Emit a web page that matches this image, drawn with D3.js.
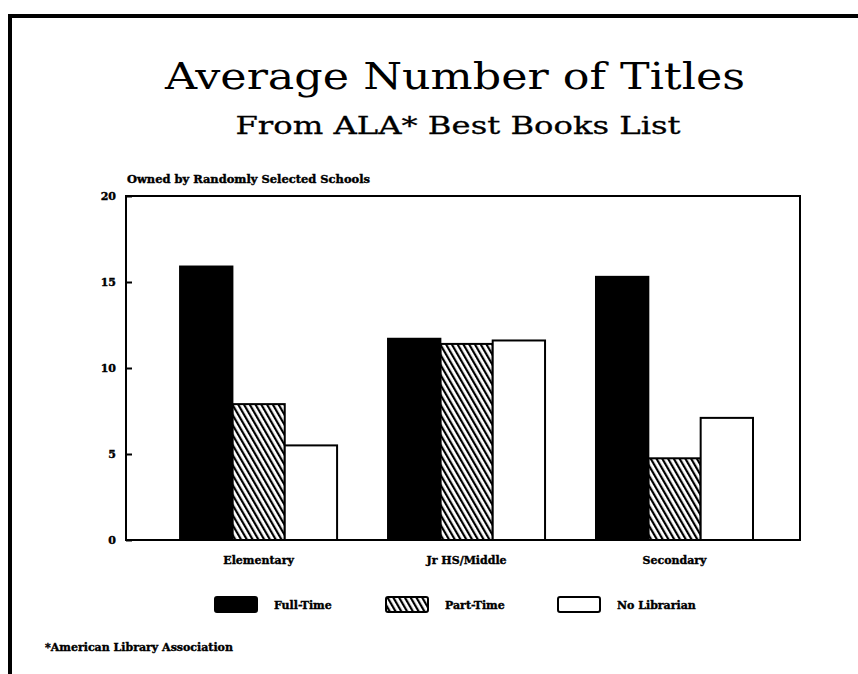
<!DOCTYPE html>
<html>
<head>
<meta charset="utf-8">
<script src="https://cdn.jsdelivr.net/npm/d3@7"></script>
<style>
  body { margin: 0; background: #fff; }
  svg { display: block; }
  .small { font-family: "DejaVu Serif", serif; font-weight: bold; font-size: 11px; fill: #000; stroke: #000; stroke-width: 0.4px; }
</style>
</head>
<body>
<div id="chart"></div>
<script>
var categories = ["Elementary", "Jr HS/Middle", "Secondary"];
var seriesNames = ["Full-Time", "Part-Time", "No Librarian"];
var fullTime = [15.9, 11.7, 15.3];
var partTime = [7.9, 11.4, 4.75];
var noLibrarian = [5.5, 11.6, 7.1];
var yTicks = [0, 5, 10, 15, 20];

var width = 858, height = 674;
var margin = { top: 196, right: 58, bottom: 134, left: 126 };
var w = width - margin.left - margin.right,
    h = height - margin.top - margin.bottom;

var svg = d3.select("#chart").append("svg")
  .attr("width", width)
  .attr("height", height);

// hatch for part-time
var defs = svg.append("defs");
defs.append("pattern")
  .attr("id", "hatch")
  .attr("patternUnits", "userSpaceOnUse")
  .attr("width", 5).attr("height", 5)
  .attr("patternTransform", "rotate(-30)")
  .append("rect")
  .attr("x", 0).attr("y", 0)
  .attr("width", 2.2).attr("height", 5)
  .attr("fill", "#000");

// page border (scanned frame)
svg.append("path")
  .attr("d", "M10,674 L10,16 L858,16")
  .attr("fill", "none")
  .attr("stroke", "#000")
  .attr("stroke-width", 4);

svg.append("text")
  .attr("x", 455).attr("y", 89)
  .attr("text-anchor", "middle")
  .attr("font-family", "DejaVu Serif, serif")
  .attr("font-size", 38)
  .attr("textLength", 580)
  .attr("lengthAdjust", "spacingAndGlyphs")
  .text("Average Number of Titles");

svg.append("text")
  .attr("x", 458).attr("y", 134)
  .attr("text-anchor", "middle")
  .attr("font-family", "DejaVu Serif, serif")
  .attr("font-size", 25)
  .attr("stroke", "#000")
  .attr("stroke-width", 0.3)
  .attr("textLength", 445)
  .attr("lengthAdjust", "spacingAndGlyphs")
  .text("From ALA* Best Books List");

svg.append("text")
  .attr("class", "small")
  .attr("x", 127).attr("y", 183)
  .attr("textLength", 243)
  .attr("lengthAdjust", "spacingAndGlyphs")
  .text("Owned by Randomly Selected Schools");

var g = svg.append("g")
  .attr("transform", "translate(" + margin.left + "," + margin.top + ")");

var x0 = d3.scaleBand()
  .domain(categories)
  .range([0, w])
  .paddingInner(0.245)
  .paddingOuter(0.243)
  .align(0.535);

var x1 = d3.scaleBand()
  .domain(seriesNames)
  .range([0, x0.bandwidth()]);

var y = d3.scaleLinear()
  .domain([0, 20])
  .range([h, 0]);

var fills = { "Full-Time": "#000", "Part-Time": "url(#hatch)", "No Librarian": "#fff" };

var rows = categories.map(function(c, i) {
  return {
    category: c,
    values: [
      { key: "Full-Time", value: fullTime[i] },
      { key: "Part-Time", value: partTime[i] },
      { key: "No Librarian", value: noLibrarian[i] }
    ]
  };
});

var group = g.selectAll(".group")
  .data(rows)
  .enter().append("g")
  .attr("class", "group")
  .attr("transform", function(d) { return "translate(" + x0(d.category) + ",0)"; });

group.selectAll("rect")
  .data(function(d) { return d.values; })
  .enter().append("rect")
  .attr("x", function(d) { return x1(d.key); })
  .attr("y", function(d) { return y(d.value); })
  .attr("width", x1.bandwidth())
  .attr("height", function(d) { return h - y(d.value); })
  .attr("fill", function(d) { return fills[d.key]; })
  .attr("stroke", "#000")
  .attr("stroke-width", 2);

// plot frame
g.append("rect")
  .attr("x", 0).attr("y", 0)
  .attr("width", w).attr("height", h)
  .attr("fill", "none")
  .attr("stroke", "#000")
  .attr("stroke-width", 2);

var yAxis = d3.axisRight(y)
  .tickValues(yTicks)
  .tickSize(6)
  .tickFormat("");

g.append("g")
  .call(yAxis)
  .call(function(s) {
    s.select(".domain").remove();
    s.selectAll("line").attr("stroke", "#000").attr("stroke-width", 2);
  });

g.selectAll(".ylabel")
  .data(yTicks)
  .enter().append("text")
  .attr("class", "small")
  .attr("x", -10)
  .attr("y", function(d) { return y(d) + 4; })
  .attr("text-anchor", "end")
  .text(function(d) { return d; });

var xAxis = d3.axisBottom(x0).tickSize(0).tickPadding(16);
g.append("g")
  .attr("transform", "translate(0," + h + ")")
  .call(xAxis)
  .call(function(s) {
    s.select(".domain").remove();
    s.selectAll("text")
      .attr("class", "small")
      .attr("font-family", null)
      .attr("font-size", null);
  });

// legend
var legendX = [215, 386, 558];
var legend = svg.selectAll(".legend")
  .data(seriesNames)
  .enter().append("g")
  .attr("class", "legend")
  .attr("transform", function(d, i) { return "translate(" + legendX[i] + ",597)"; });

legend.append("rect")
  .attr("width", 42).attr("height", 15)
  .attr("rx", 2)
  .attr("fill", function(d) { return fills[d]; })
  .attr("stroke", "#000")
  .attr("stroke-width", 2);

legend.append("text")
  .attr("class", "small")
  .attr("x", 59).attr("y", 12)
  .text(function(d) { return d; });

svg.append("text")
  .attr("class", "small")
  .attr("x", 45).attr("y", 651)
  .attr("font-size", 10)
  .text("*American Library Association");
</script>
</body>
</html>
